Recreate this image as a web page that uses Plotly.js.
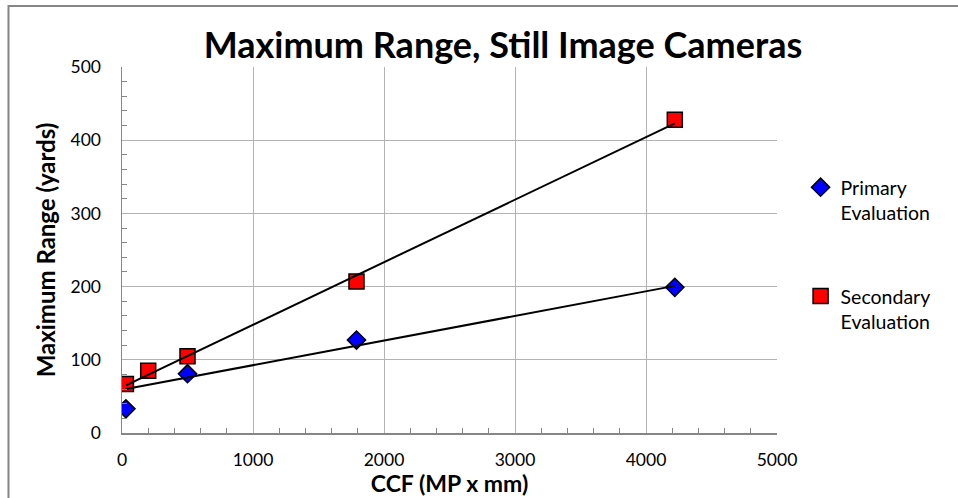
<!DOCTYPE html>
<html>
<head>
<meta charset="utf-8">
<script src="https://cdn.plot.ly/plotly-3.0.1.min.js"></script>
<style>html,body{margin:0;padding:0;background:#fff;}#chart{width:958px;height:498px;}</style>
</head>
<body>
<div id="chart"></div>
<script>
// Data
const primaryX = [30, 500, 1790, 4220];
const primaryY = [33, 81, 127, 199];
const secondaryX = [30, 200, 500, 1790, 4220];
const secondaryY = [67, 85, 105, 207, 428];
// Trendline endpoints (as drawn in the reference)
const primaryTrendX = [30, 4220];
const primaryTrendY = [60, 201];
const secondaryTrendX = [30, 4220];
const secondaryTrendY = [65, 423];
const seriesNames = ['Primary<br>Evaluation', 'Secondary<br>Evaluation'];

const FONT = 'Lato, "Open Sans", sans-serif';

const traces = [
  {x: primaryX, y: primaryY, type: 'scatter', mode: 'markers', name: seriesNames[0],
   legendgroup: 'a',
   marker: {symbol: 'diamond', size: 14, color: '#0000ff', line: {color: '#000', width: 1.5}}},
  {x: secondaryX, y: secondaryY, type: 'scatter', mode: 'markers', name: seriesNames[1],
   legendgroup: 'b',
   marker: {symbol: 'square', size: 15, color: '#ff0000', line: {color: '#000', width: 1.5}}},
  {x: primaryTrendX, y: primaryTrendY, type: 'scatter', mode: 'lines', showlegend: false,
   line: {color: '#000', width: 2}, hoverinfo: 'skip'},
  {x: secondaryTrendX, y: secondaryTrendY, type: 'scatter', mode: 'lines', showlegend: false,
   line: {color: '#000', width: 2}, hoverinfo: 'skip'}
];

const layout = {
  width: 958, height: 498,
  margin: {l: 122, r: 181, t: 67, b: 65, pad: 0},
  paper_bgcolor: '#fff', plot_bgcolor: '#fff',
  font: {family: FONT, size: 17.5, color: '#000'},
  title: {text: '<b>Maximum Range, Still Image Cameras</b>', font: {family: FONT, size: 36, color: '#000'},
          x: 0.525, xref: 'container', xanchor: 'center', y: 0.909, yanchor: 'middle'},
  xaxis: {
    range: [0, 5000], tick0: 0, dtick: 1000,
    showgrid: true, gridcolor: '#b3b3b3', gridwidth: 1,
    showline: true, linecolor: '#868686', linewidth: 1.5,
    zeroline: false, ticks: '', ticklen: 0, ticklabelstandoff: 10,
    minor: {dtick: 200, ticks: 'inside', ticklen: 5, tickcolor: '#868686', tickwidth: 1, showgrid: false},
    tickfont: {family: FONT, size: 17.5},
    title: {text: '<b>CCF (MP x mm)</b>', font: {family: FONT, size: 23}, standoff: 4}
  },
  yaxis: {
    range: [0, 500], tick0: 0, dtick: 100,
    showgrid: true, gridcolor: '#b3b3b3', gridwidth: 1,
    showline: true, linecolor: '#868686', linewidth: 1.5,
    zeroline: false, ticks: '', ticklen: 0, ticklabelstandoff: 16,
    minor: {dtick: 20, ticks: 'inside', ticklen: 5, tickcolor: '#868686', tickwidth: 1, showgrid: false},
    tickfont: {family: FONT, size: 17.5},
    title: {text: '<b>Maximum Range (yards)</b>', font: {family: FONT, size: 24}, standoff: 8}
  },
  legend: {
    x: 1.036, xanchor: 'left', y: 0.724, yanchor: 'top',
    font: {family: FONT, size: 19.5},
    traceorder: 'grouped', tracegroupgap: 55, valign: 'top',
    bgcolor: 'rgba(0,0,0,0)', itemwidth: 30
  },
  shapes: [
    {type: 'rect', xref: 'paper', yref: 'paper',
     x0: -0.1733, x1: 1.45, y0: -0.45, y1: 1.1667,
     line: {color: '#868686', width: 2}, fillcolor: 'rgba(0,0,0,0)', layer: 'below'}
  ]
};

Plotly.newPlot('chart', traces, layout, {displayModeBar: false, staticPlot: true});
</script>
</body>
</html>
